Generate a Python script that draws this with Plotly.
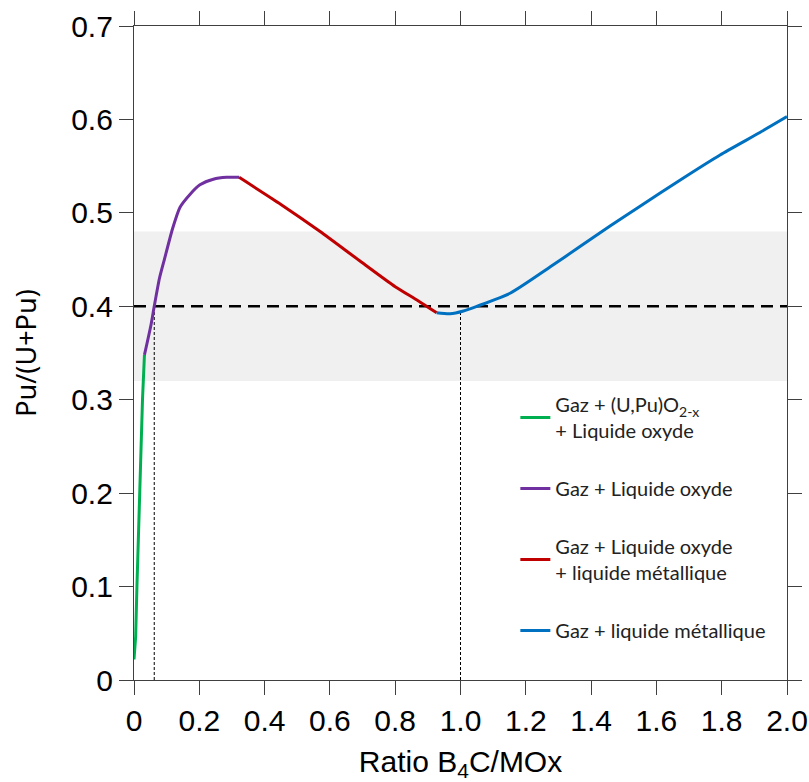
import plotly.graph_objects as go

# ---- data ----
green_x = [0.0, 0.005, 0.009, 0.017, 0.026, 0.032]
green_y = [0.022, 0.046, 0.10, 0.20, 0.30, 0.348]

purple_x = [0.032, 0.052, 0.062, 0.078, 0.093, 0.118, 0.141, 0.172, 0.202, 0.243, 0.284, 0.322]
purple_y = [0.348, 0.380, 0.400, 0.430, 0.450, 0.483, 0.506, 0.520, 0.530, 0.536, 0.538, 0.538]

red_x = [0.322, 0.45, 0.57, 0.69, 0.80, 0.87, 0.927]
red_y = [0.538, 0.509, 0.480, 0.449, 0.421, 0.406, 0.393]

blue_x = [0.927, 0.968, 1.009, 1.05, 1.152, 1.274, 1.366, 1.458, 1.55, 1.672, 1.795, 1.917, 2.0]
blue_y = [0.393, 0.392, 0.395, 0.400, 0.414, 0.442, 0.464, 0.486, 0.507, 0.535, 0.562, 0.586, 0.603]

band_low, band_high = 0.32, 0.48
target_y = 0.40
target_x = [0.0, 2.0]
guide1_x, guide1_top = 0.062, 0.400
guide2_x, guide2_top = 1.0, 0.393

names = [
    "Gaz + (U,Pu)O<sub>2-x</sub><br>+ Liquide oxyde",
    "Gaz + Liquide oxyde",
    "Gaz + Liquide oxyde<br>+ liquide métallique",
    "Gaz + liquide métallique",
]
colors = ["#00b050", "#7030a0", "#c00000", "#0070c0"]
shapes_ = ["linear", "spline", "spline", "spline"]

x_tickvals = [0, 0.2, 0.4, 0.6, 0.8, 1.0, 1.2, 1.4, 1.6, 1.8, 2.0]
x_ticktext = ["0", "0.2", "0.4", "0.6", "0.8", "1.0", "1.2", "1.4", "1.6", "1.8", "2.0"]
y_tickvals = [0, 0.1, 0.2, 0.3, 0.4, 0.5, 0.6, 0.7]
y_ticktext = ["0", "0.1", "0.2", "0.3", "0.4", "0.5", "0.6", "0.7"]

fig = go.Figure()

# guide lines
fig.add_trace(go.Scatter(x=target_x, y=[target_y, target_y], mode="lines",
                         line=dict(color="black", width=2.5, dash="12px,7px"),
                         showlegend=False, hoverinfo="skip"))
fig.add_trace(go.Scatter(x=[guide1_x, guide1_x], y=[0, guide1_top], mode="lines",
                         line=dict(color="black", width=1, dash="3px,2px"),
                         showlegend=False, hoverinfo="skip"))
fig.add_trace(go.Scatter(x=[guide2_x, guide2_x], y=[0, guide2_top], mode="lines",
                         line=dict(color="black", width=1, dash="3px,2px"),
                         showlegend=False, hoverinfo="skip"))

for i, (xs, ys) in enumerate([(green_x, green_y), (purple_x, purple_y),
                              (red_x, red_y), (blue_x, blue_y)]):
    fig.add_trace(go.Scatter(x=xs, y=ys, mode="lines", name=names[i],
                             legendgroup=f"g{i}",
                             line=dict(color=colors[i], width=3,
                                       shape=shapes_[i], smoothing=0.6)))

fig.add_shape(type="rect", xref="x", yref="y", x0=target_x[0], x1=target_x[1],
              y0=band_low, y1=band_high, fillcolor="#f0f0f0", line_width=0,
              layer="below")

axis_common = dict(showline=True, linecolor="#404040", linewidth=1.3,
                   mirror="ticks", ticks="outside", ticklen=14, tickwidth=1.3,
                   tickcolor="#404040", showgrid=False, zeroline=False,
                   automargin=False,
                   tickfont=dict(family="Liberation Sans, Arial", size=30, color="black"))

fig.update_xaxes(range=[0, 2.0], tickvals=x_tickvals, ticktext=x_ticktext,
                 title=dict(text="Ratio B<sub>4</sub>C/MOx", standoff=16,
                            font=dict(family="Liberation Sans, Arial", size=30, color="black")),
                 **axis_common)
fig.update_yaxes(range=[0, 0.7], tickvals=y_tickvals, ticktext=y_ticktext,
                 title=dict(text="Pu/(U+Pu)", standoff=26,
                            font=dict(family="Noto Sans", size=27, color="black")),
                 **axis_common)

fig.update_layout(
    width=809, height=782,
    margin=dict(l=134, r=22, t=26, b=102),
    paper_bgcolor="white", plot_bgcolor="white",
    legend=dict(x=0.584, y=0.451, xanchor="left", yanchor="top",
                bgcolor="rgba(255,255,255,0)", tracegroupgap=29,
                font=dict(family="Lato", size=20, color="#222222")),
)

fig.write_html("out.html",
               config={"displayModeBar": False},
               post_script="document.body.style.margin='0';"
                           "document.body.style.overflow='hidden';")
